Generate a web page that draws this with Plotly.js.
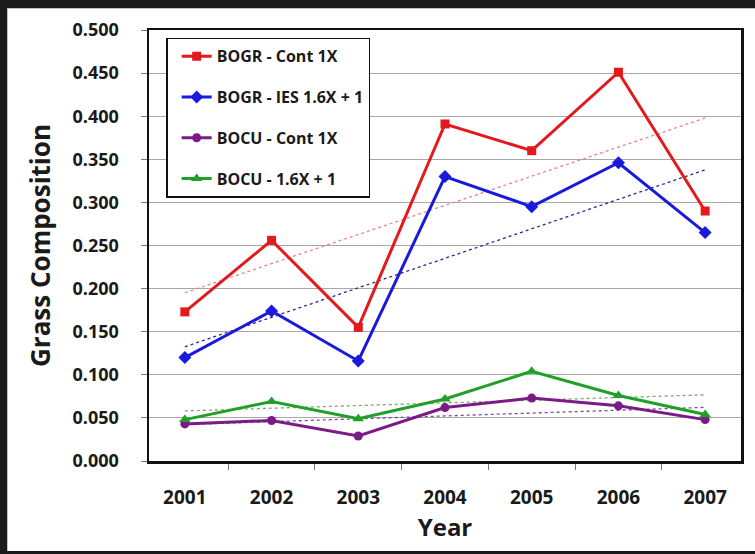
<!DOCTYPE html>
<html>
<head>
<meta charset="utf-8">
<script src="https://cdn.plot.ly/plotly-3.0.1.min.js"></script>
<style>
  html, body { margin: 0; padding: 0; background: #1b1b1b; width: 755px; height: 554px; overflow: hidden; }
  #frame { position: absolute; left: 7px; top: 8px; width: 748px; height: 543px; background: #fff;
           border-left: 1px solid #b9c6c6; border-top: 1px solid #b9c6c6; border-bottom: 1px solid #b9c6c6; box-sizing: border-box; }
  #chart { position: absolute; left: 0; top: 0; width: 747px; height: 542px; }
</style>
</head>
<body>
<div id="frame"><div id="chart"></div></div>
<script>
const years = ['2001', '2002', '2003', '2004', '2005', '2006', '2007'];
const bogrCont = [0.173, 0.256, 0.155, 0.391, 0.360, 0.451, 0.290];
const bogrIES  = [0.120, 0.174, 0.116, 0.330, 0.295, 0.346, 0.265];
const bocuCont = [0.043, 0.047, 0.029, 0.062, 0.073, 0.064, 0.048];
const bocuIES  = [0.048, 0.069, 0.049, 0.072, 0.104, 0.076, 0.054];
const seriesNames = ['BOGR - Cont 1X', 'BOGR - IES 1.6X + 1', 'BOCU - Cont 1X', 'BOCU - 1.6X + 1'];
const yTicks = [0, 0.05, 0.1, 0.15, 0.2, 0.25, 0.3, 0.35, 0.4, 0.45, 0.5];

// linear least-squares trendline over category index
function trend(vals) {
  const n = vals.length;
  const xs = vals.map((_, i) => i + 1);
  const mx = xs.reduce((a, b) => a + b, 0) / n;
  const my = vals.reduce((a, b) => a + b, 0) / n;
  let sxy = 0, sxx = 0;
  for (let i = 0; i < n; i++) { sxy += (xs[i] - mx) * (vals[i] - my); sxx += (xs[i] - mx) ** 2; }
  const b = sxy / sxx, a = my - b * mx;
  return xs.map(x => a + b * x);
}

const styles = [
  { color: '#e3191c', symbol: 'square', size: 9, trendColor: '#f08080' },
  { color: '#1a1adc', symbol: 'diamond', size: 10, trendColor: '#2a2a90' },
  { color: '#7b1b86', symbol: 'circle', size: 9, trendColor: '#7a4a9a' },
  { color: '#20a028', symbol: 'triangle-up', size: 10, trendColor: '#7aa86a' }
];
const allData = [bogrCont, bogrIES, bocuCont, bocuIES];

const traces = [];
allData.forEach((vals, k) => {
  traces.push({
    x: years, y: trend(vals), type: 'scatter', mode: 'lines', showlegend: false, hoverinfo: 'skip',
    legendgroup: 't' + k,
    line: { color: styles[k].trendColor, width: 1.3, dash: 'dot' }
  });
});
allData.forEach((vals, k) => {
  traces.push({
    x: years, y: vals, type: 'scatter', mode: 'lines+markers', name: seriesNames[k],
    legendgroup: 'g' + k,
    line: { color: styles[k].color, width: 3 },
    marker: { color: styles[k].color, symbol: styles[k].symbol, size: styles[k].size }
  });
});

const FONT = '"Open Sans", Lato, sans-serif';
const layout = {
  width: 747, height: 542,
  margin: { l: 141, r: 14, t: 21, b: 90 },
  paper_bgcolor: '#ffffff', plot_bgcolor: '#ffffff',
  font: { family: FONT, color: '#1a1a1a' },
  showlegend: true,
  legend: {
    x: 0.029, y: 0.982, xanchor: 'left', yanchor: 'top',
    bgcolor: '#ffffff', bordercolor: '#111', borderwidth: 1.5,
    font: { family: FONT, size: 16, color: '#1a1a1a', weight: 'bold' },
    tracegroupgap: 17, traceorder: 'grouped', indentation: 9
  },
  xaxis: {
    type: 'category', categoryorder: 'array', categoryarray: years,
    showline: true, mirror: true, linecolor: '#111', linewidth: 2.5,
    ticks: 'outside', tickson: 'boundaries', ticklen: 6, tickcolor: '#777', tickwidth: 1,
    ticklabelstandoff: 18,
    showgrid: false, zeroline: false,
    tickfont: { family: FONT, size: 19, color: '#1a1a1a', weight: 'bold' },
    title: { text: 'Year', font: { family: FONT, size: 24, color: '#1a1a1a', weight: 'bold' }, standoff: 6 }
  },
  yaxis: {
    range: [0, 0.5], tickvals: yTicks, tickformat: '.3f',
    showline: true, mirror: true, linecolor: '#111', linewidth: 2.5,
    ticks: 'outside', ticklen: 6, tickcolor: '#777', tickwidth: 1,
    ticklabelstandoff: 18,
    showgrid: true, gridcolor: '#a8a8a8', gridwidth: 1, zeroline: false,
    tickfont: { family: FONT, size: 18, color: '#1a1a1a', weight: 'bold' },
    title: { text: 'Grass Composition', font: { family: FONT, size: 26, color: '#1a1a1a', weight: 'bold' }, standoff: 15 }
  }
};

Plotly.newPlot('chart', traces, layout, { displayModeBar: false, staticPlot: true });
</script>
</body>
</html>
